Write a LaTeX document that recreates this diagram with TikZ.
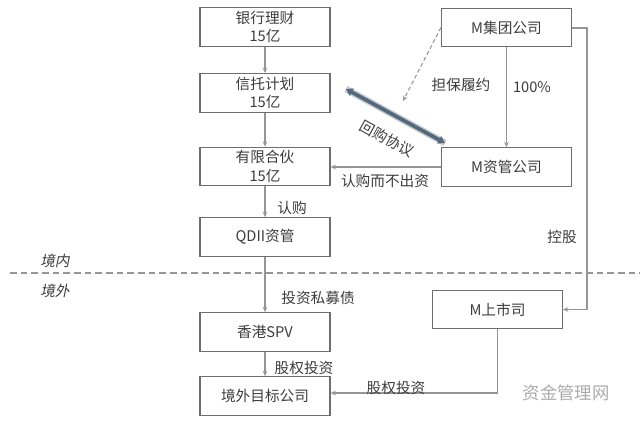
\documentclass[tikz,border=0pt]{standalone}
\usepackage{fontspec}
\setmainfont{Noto Sans CJK SC}
\newfontfamily\slantcjk[FakeSlant=0.2]{Noto Sans CJK SC}
\usetikzlibrary{arrows.meta}
\definecolor{txtgray}{RGB}{60,60,60}
\definecolor{linegray}{RGB}{150,150,150}
\definecolor{boxgray}{RGB}{110,110,110}
\definecolor{repo}{RGB}{85,105,125}

\begin{document}
\begin{tikzpicture}[x=0.75pt,y=-0.75pt,
  box/.style={draw=boxgray,line width=0.8pt,minimum width=97.5pt,minimum height=29pt,align=center,font=\fontsize{11}{14}\selectfont,text=txtgray,inner sep=0pt},
  lbl/.style={font=\fontsize{11}{13}\selectfont,text=txtgray,inner sep=1pt},
  flow/.style={draw=linegray,line width=0.8pt,-{Stealth[length=4pt,width=3.5pt]}}]

\useasboundingbox (0,0) rectangle (640,422);

% domestic side
\node[box] (bank) at (265,27) {银行理财\\15亿};
\node[box] (trust) at (265,93) {信托计划\\15亿};
\node[box] (lp) at (265,166.5) {有限合伙\\15亿};
\node[box] (qdii) at (265,237) {QDII资管};

% offshore side
\node[box] (spv) at (265,332) {香港SPV};
\node[box] (target) at (265,396) {境外目标公司};

% M group
\node[box] (group) at (506.5,27.5) {M集团公司};
\node[box] (mgmt) at (506.5,167) {M资管公司};
\node[box] (listed) at (497.5,309.5) {M上市司};

\coordinate (G1) at (587,28);
\coordinate (G2) at (587,309.5);
\coordinate (L1) at (497.5,393);
\coordinate (D1) at (403,101);
\coordinate (R1) at (346,89);
\coordinate (R2) at (445,143);

% border line
\coordinate (B1) at (10,273);
\coordinate (B2) at (640,273);
\draw[linegray,dashed,line width=0.8pt,dash pattern=on 5pt off 3pt] (B1) -- (B2);
\node[lbl,font=\fontsize{11}{13}\slantcjk] (inland) at (55,261) {境内};
\node[lbl,font=\fontsize{11}{13}\slantcjk] (abroad) at (55,291) {境外};

\draw[flow] (bank) -- (trust);
\draw[flow] (trust) -- (lp);
\draw[flow] (lp) -- (qdii);
\draw[flow] (qdii) -- (spv);
\draw[flow] (spv) -- (target);
\draw[flow] (group) -- (mgmt);
\draw[flow] (mgmt.west |- 0,167) -- (lp.east |- 0,167);
\draw[flow] (group.east |- G1) -- (G1) -- (G2) -- (listed.east);
\draw[flow] (listed.south) -- (L1) -- (target.east |- L1);
\draw[flow,dashed,dash pattern=on 3pt off 2pt] (group.west) -- (D1);

\draw[repo!35,line width=5pt] (R1) -- (R2);
\draw[repo,line width=2.8pt,{Triangle[length=5pt,width=6pt]}-{Triangle[length=5pt,width=6pt]}] (R1) -- (R2);

\node[lbl] (sub) at (292,208) {认购};
\node[lbl] (bond) at (318,298) {投资私募债};
\node[lbl] (eq1) at (304,368) {股权投资};
\node[lbl] (eq2) at (396,388) {股权投资};
\node[lbl] (guar) at (461,85) {担保履约};
\node[lbl] (own) at (532,87) {100\%};
\node[lbl] (nocash) at (385,181) {认购而不出资};
\node[lbl] (ctrl) at (562,237) {控股};
\node[lbl,rotate=-29] (buyback) at (387,139) {回购协议};
\node[lbl,text=linegray!80,font=\fontsize{13}{15}\selectfont] (mark) at (566,393) {资金管理网};

\end{tikzpicture}
\end{document}
